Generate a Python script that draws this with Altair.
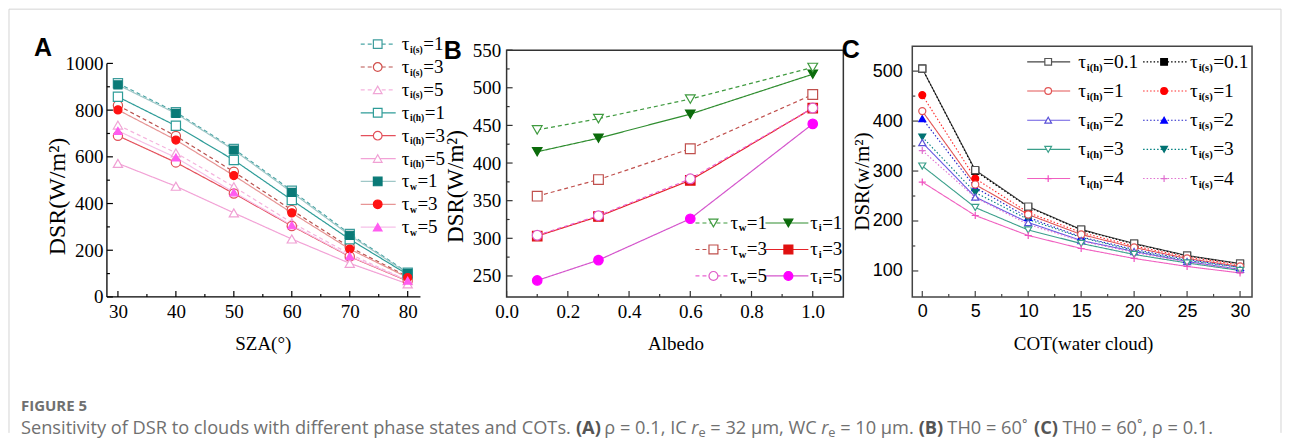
import altair as alt
import pandas as pd

# ---------------- Panel A : DSR vs SZA ----------------
sza = [30, 40, 50, 60, 70, 80]
a_is1 = [915, 791, 634, 455, 270, 104]
a_is3 = [820, 689, 536, 372, 213, 87]
a_is5 = [736, 617, 472, 318, 184, 70]
a_ih1 = [857, 733, 586, 415, 247, 96]
a_ih3 = [690, 576, 443, 304, 173, 68]
a_ih5 = [572, 474, 360, 248, 144, 56]
a_w1 = [908, 786, 629, 448, 264, 101]
a_w3 = [801, 672, 520, 360, 205, 83]
a_w5 = [711, 597, 448, 307, 175, 70]

# ---------------- Panel B : DSR vs Albedo ----------------
albedo = [0.1, 0.3, 0.6, 1.0]
b_w1 = [444, 459, 485, 527]
b_i1 = [415, 433, 465, 518]
b_w3 = [356, 378, 419, 491]
b_i3 = [303, 329, 377, 473]
b_w5 = [304, 330, 379, 473]
b_i5 = [244, 271, 326, 452]

# ---------------- Panel C : DSR vs COT ----------------
cot = [0, 5, 10, 15, 20, 25, 30]
c_h01 = [505, 302, 229, 183, 155, 131, 115]
c_s01 = [505, 300, 228, 182, 154, 130, 114]
c_h1 = [420, 273, 213, 173, 147, 125, 109]
c_s1 = [452, 285, 217, 177, 150, 128, 112]
c_h2 = [357, 248, 197, 161, 139, 119, 103]
c_s2 = [405, 267, 207, 168, 143, 123, 107]
c_h3 = [310, 227, 182, 155, 133, 116, 101]
c_s3 = [368, 257, 203, 167, 141, 121, 107]
c_h4 = [278, 211, 171, 145, 125, 109, 96]
c_s4 = [341, 247, 193, 160, 137, 118, 103]

# ---------------- tick values ----------------
a_xticks = [30, 40, 50, 60, 70, 80]
a_xminor = [35, 45, 55, 65, 75]
a_yticks = [0, 200, 400, 600, 800, 1000]
a_yminor = [100, 300, 500, 700, 900]
b_xticks = [0.0, 0.2, 0.4, 0.6, 0.8, 1.0]
b_xminor = [0.1, 0.3, 0.5, 0.7, 0.9]
b_yticks = [250, 300, 350, 400, 450, 500, 550]
b_yminor = [275, 325, 375, 425, 475, 525]
c_xticks = [0, 5, 10, 15, 20, 25, 30]
c_xminor = [2.5, 7.5, 12.5, 17.5, 22.5, 27.5]
c_yticks = [100, 200, 300, 400, 500]
c_yminor = [150, 250, 350, 450]

# ---------------- legend labels ----------------
a_keys = ["is1", "is3", "is5", "ih1", "ih3", "ih5", "w1", "w3", "w5"]
a_subs = ["i(s)", "i(s)", "i(s)", "i(h)", "i(h)", "i(h)", "w", "w", "w"]
a_sufs = ["=1", "=3", "=5", "=1", "=3", "=5", "=1", "=3", "=5"]
b_keys = ["w1", "i1", "w3", "i3", "w5", "i5"]
b_subs = ["w", "i", "w", "i", "w", "i"]
b_sufs = ["=1", "=1", "=3", "=3", "=5", "=5"]
c_keys = ["h01", "s01", "h1", "s1", "h2", "s2", "h3", "s3", "h4", "s4"]
c_subs = ["i(h)", "i(s)"] * 5
c_sufs = ["=0.1", "=0.1", "=1", "=1", "=2", "=2", "=3", "=3", "=4", "=4"]

PLUS = "M-1,0L1,0M0,-1L0,1"
SOLID = [1, 0]
DASH = [4, 3]
DOT = [1.5, 2]

A_STYLE = {
    "is1": dict(line="#4aa5a5", dash=DASH, shape="square", fill="white", stroke="#3d9c9c"),
    "is3": dict(line="#b9524e", dash=DASH, shape="circle", fill="white", stroke="#d2504c"),
    "is5": dict(line="#f5b4de", dash=DASH, shape="triangle-up", fill="white", stroke="#f0a6d6"),
    "ih1": dict(line="#2e9c98", dash=SOLID, shape="square", fill="white", stroke="#2e9c98"),
    "ih3": dict(line="#e4505c", dash=SOLID, shape="circle", fill="white", stroke="#e2505a"),
    "ih5": dict(line="#f2a2d6", dash=SOLID, shape="triangle-up", fill="white", stroke="#f0a0d4"),
    "w1": dict(line="#9fc7c7", dash=SOLID, shape="square", fill="#0a7a77", stroke="#0a7a77"),
    "w3": dict(line="#e79595", dash=SOLID, shape="circle", fill="#ff1212", stroke="#ff1212"),
    "w5": dict(line="#f6c0e8", dash=SOLID, shape="triangle-up", fill="#ff5cf0", stroke="#ff5cf0"),
}
B_STYLE = {
    "w1": dict(line="#3f9a3f", dash=DASH, shape="triangle-down", fill="white", stroke="#3f9a3f"),
    "i1": dict(line="#2f8d2f", dash=SOLID, shape="triangle-down", fill="#0b6b0b", stroke="#0b6b0b"),
    "w3": dict(line="#c0504d", dash=DASH, shape="square", fill="white", stroke="#c0504d"),
    "i3": dict(line="#e52228", dash=SOLID, shape="square", fill="#e01010", stroke="#e01010"),
    "w5": dict(line="#ea62d2", dash=DASH, shape="circle", fill="white", stroke="#df5cc8"),
    "i5": dict(line="#d456cc", dash=SOLID, shape="circle", fill="#ff00ff", stroke="#ff00ff"),
}
C_STYLE = {
    "h01": dict(line="#444444", dash=SOLID, shape="square", fill="white", stroke="#555555"),
    "s01": dict(line="#000000", dash=DOT, shape="square", fill="#000000", stroke="#000000"),
    "h1": dict(line="#e25555", dash=SOLID, shape="circle", fill="white", stroke="#e25555"),
    "s1": dict(line="#ff2a2a", dash=DOT, shape="circle", fill="#ff0000", stroke="#ff0000"),
    "h2": dict(line="#6a5ae2", dash=SOLID, shape="triangle-up", fill="white", stroke="#5a52d8"),
    "s2": dict(line="#2222c8", dash=DOT, shape="triangle-up", fill="#0000ff", stroke="#0000ff"),
    "h3": dict(line="#3a9f8a", dash=SOLID, shape="triangle-down", fill="white", stroke="#3a9f8a"),
    "s3": dict(line="#008080", dash=DOT, shape="triangle-down", fill="#007272", stroke="#007272"),
    "h4": dict(line="#f060c0", dash=SOLID, shape=PLUS, fill="white", stroke="#f050c0"),
    "s4": dict(line="#e070d0", dash=DOT, shape=PLUS, fill="white", stroke="#e070d0"),
}


def long_df(xvals, series, field):
    rows = []
    for k, vals in series.items():
        for xv, yv in zip(xvals, vals):
            rows.append({"x": xv, "y": yv, field: k})
    return pd.DataFrame(rows)


dfA = long_df(sza, {"is1": a_is1, "is3": a_is3, "is5": a_is5, "ih1": a_ih1, "ih3": a_ih3,
                    "ih5": a_ih5, "w1": a_w1, "w3": a_w3, "w5": a_w5}, "sa")
dfB = long_df(albedo, {"w1": b_w1, "i1": b_i1, "w3": b_w3, "i3": b_i3, "w5": b_w5, "i5": b_i5}, "sb")
dfC = long_df(cot, {"h01": c_h01, "s01": c_s01, "h1": c_h1, "s1": c_s1, "h2": c_h2, "s2": c_s2,
                    "h3": c_h3, "s3": c_s3, "h4": c_h4, "s4": c_s4}, "sc")

SERIF = "Liberation Serif"
SANS = "Liberation Sans"
# Times-like bold widths (em) for subscripts
SUB_EM = {"i(s)": 1.333, "i(h)": 1.5, "w": 0.722, "i": 0.278}
TAU_EM = 0.44


def panel(P):
    W, H = P["W"], P["H"]
    keys = P["keys"]
    st = P["style"]
    f = P["field"]
    xs = alt.Scale(domain=P["xdom"], nice=False, zero=False)
    ys = alt.Scale(domain=P["ydom"], nice=False, zero=False)
    ax_x = alt.Axis(values=P["xticks"], format=P["xfmt"], ticks=False, tickSize=0, domain=False,
                    grid=False, labelFont=P["tfont"], labelFontSize=P["tsize"], labelColor="black",
                    labelPadding=15, labelBaseline="middle", labelFlush=False, labelOverlap=False,
                    title=P["xtitle"], titleFont=SERIF, titleFontSize=P["xtsize"],
                    titleFontWeight="normal", titleColor="black", titleX=P["xtx"], titleY=47,
                    titleBaseline="middle", titleAlign="center")
    ax_y = alt.Axis(values=P["yticks"], format="d", ticks=False, tickSize=0, domain=False,
                    grid=False, labelFont=P["tfont"], labelFontSize=P["tsize"], labelColor="black",
                    labelPadding=P["ylp"], labelAlign="right", labelBaseline="middle",
                    labelFlush=False, labelOverlap=False,
                    title=P["ytitle"], titleFont=SERIF, titleFontSize=P["ytsize"],
                    titleFontWeight="normal", titleColor="black", titleX=P["ytx"], titleY=P["yty"],
                    titleAngle=270, titleBaseline="middle", titleAlign="center")

    def X(fl):
        return alt.X(fl, type="quantitative", scale=xs, axis=ax_x)

    def Y(fl):
        return alt.Y(fl, type="quantitative", scale=ys, axis=ax_y)

    def sc(prop):
        return alt.Scale(domain=keys, range=[st[k][prop] for k in keys])

    layers = []
    # frame / axis lines
    if P["frame"] == "box":
        fr = pd.DataFrame({"fx": [P["xdom"][0]], "fx2": [P["xdom"][1]],
                           "fy": [P["ydom"][0]], "fy2": [P["frame_top"]]})
        layers.append(alt.Chart(fr).mark_rect(fill="transparent", stroke=P["fcolor"],
                                                strokeWidth=1.5).encode(
            x=X("fx"), x2=alt.X2("fx2"), y=Y("fy"), y2=alt.Y2("fy2")))
    else:
        fr = pd.DataFrame({"fx": [P["xdom"][0], P["xdom"][0]], "fx2": [P["axis_xmax"], P["xdom"][0]],
                           "fy": [P["ydom"][0], P["ydom"][0]], "fy2": [P["ydom"][0], P["axis_ymax"]]})
        layers.append(alt.Chart(fr).mark_rule(color="black", strokeWidth=1.3).encode(
            x=X("fx"), x2=alt.X2("fx2"), y=Y("fy"), y2=alt.Y2("fy2")))
    # inward ticks
    for vals, L in [(P["xticks"], 6), (P["xminor"], 3)]:
        layers.append(alt.Chart(pd.DataFrame({"tv": vals})).mark_rule(
            color=P["fcolor"], strokeWidth=1.2).encode(x=X("tv"), y=alt.value(H), y2=alt.value(H - L)))
    for vals, L in [(P["yticks"], 6), (P["yminor"], 3)]:
        layers.append(alt.Chart(pd.DataFrame({"tv": vals})).mark_rule(
            color=P["fcolor"], strokeWidth=1.2).encode(y=Y("tv"), x=alt.value(0), x2=alt.value(L)))

    df = P["df"]
    layers.append(alt.Chart(df).mark_line(strokeWidth=P["lw"]).encode(
        x=X("x"), y=Y("y"), detail=f"{f}:N",
        color=alt.Color(f"{f}:N", scale=sc("line"), legend=None),
        strokeDash=alt.StrokeDash(f"{f}:N", scale=sc("dash"), legend=None)))
    for sub_keys, size in P["marker_layers"]:
        d = df[df[f].isin(sub_keys)]
        layers.append(alt.Chart(d).mark_point(opacity=1, size=size, strokeWidth=1.2).encode(
            x=X("x"), y=Y("y"),
            shape=alt.Shape(f"{f}:N", scale=sc("shape"), legend=None),
            fill=alt.Fill(f"{f}:N", scale=sc("fill"), legend=None),
            stroke=alt.Stroke(f"{f}:N", scale=sc("stroke"), legend=None)))

    # hand-built legend (line sample + marker + τ with subscript)
    rows = []
    for k, sb, sf, r in zip(keys, P["subs"], P["sufs"], P["lrows"]):
        y, l0, l1, lm, tx = r
        sx = tx + TAU_EM * P["lfs"]
        rows.append({f: k, "sub": sb, "suf": sf, "ly": y, "l0": l0, "l1": l1, "lm": lm,
                     "tx": tx, "sx": sx, "sy": y + P["sdy"],
                     "fx": sx + SUB_EM[sb] * P["sfs"] + 0.5})
    lg = pd.DataFrame(rows)
    layers.append(alt.Chart(lg).mark_rule(strokeWidth=P["lw"]).encode(
        x=alt.X("l0:Q", scale=None), x2="l1:Q", y=alt.Y("ly:Q", scale=None),
        color=alt.Color(f"{f}:N", scale=sc("line"), legend=None),
        strokeDash=alt.StrokeDash(f"{f}:N", scale=sc("dash"), legend=None)))
    layers.append(alt.Chart(lg).mark_point(opacity=1, size=P["lsize"], strokeWidth=1.2).encode(
        x=alt.X("lm:Q", scale=None), y=alt.Y("ly:Q", scale=None),
        shape=alt.Shape(f"{f}:N", scale=sc("shape"), legend=None),
        fill=alt.Fill(f"{f}:N", scale=sc("fill"), legend=None),
        stroke=alt.Stroke(f"{f}:N", scale=sc("stroke"), legend=None)))
    layers.append(alt.Chart(lg).mark_text(align="left", baseline="middle", font=SERIF,
                                          fontSize=P["lfs"], color="black").encode(
        x=alt.X("tx:Q", scale=None), y=alt.Y("ly:Q", scale=None), text=alt.value("τ")))
    layers.append(alt.Chart(lg).mark_text(align="left", baseline="middle", font=SERIF,
                                          fontSize=P["sfs"], fontWeight="bold", color="black").encode(
        x=alt.X("sx:Q", scale=None), y=alt.Y("sy:Q", scale=None), text="sub:N"))
    layers.append(alt.Chart(lg).mark_text(align="left", baseline="middle", font=SERIF,
                                          fontSize=P["lfs"], color="black").encode(
        x=alt.X("fx:Q", scale=None), y=alt.Y("ly:Q", scale=None), text="suf:N"))
    # panel letter
    layers.append(alt.Chart(pd.DataFrame({"t": [P["letter"]]})).mark_text(
        font=SANS, fontSize=25, fontWeight="bold", color="black", align="center",
        baseline="middle").encode(text="t:N", x=alt.value(P["letter_xy"][0]),
                                  y=alt.value(P["letter_xy"][1])))
    layers += P.get("extra", [])
    return alt.layer(*layers).properties(width=W, height=H)


# --- legend geometry (pixels inside each panel) ---
a_rows = [(-2 + 22.9 * i, 254, 289, 271, 295) for i in range(9)]
b_rows = []
for i in range(6):
    r, c = divmod(i, 2)
    y = 177 + 26.5 * r
    b_rows.append((y, 189, 221, 207, 224) if c == 0 else (y, 259, 302, 282, 304))
c_rows = []
for i in range(10):
    r, c = divmod(i, 2)
    y = 15.7 + 29.2 * r
    c_rows.append((y, 115, 158, 136, 166) if c == 0 else (y, 231, 275, 252, 278))

# ---------------- caption & outer card (drawn from panel A's origin) ----------------
OX, OY = 106, 45  # panel A plot origin on the page
cap_segments = [
    ("Sensitivity of DSR to clouds with different phase states and COTs. ", "n"),
    ("(A)", "b"), (" ρ = 0.1, IC ", "n"), ("r", "i"), ("e", "s"), (" = 32 μm, WC ", "n"),
    ("r", "i"), ("e", "s"), (" = 10 μm. ", "n"), ("(B)", "b"), (" TH0 = 60˚ ", "n"),
    ("(C)", "b"), (" TH0 = 60˚, ρ = 0.1.", "n"),
]
CW = {' ': 0.26, 'a': 0.556, 'b': 0.613, 'c': 0.48, 'd': 0.613, 'e': 0.561, 'f': 0.336,
      'g': 0.546, 'h': 0.614, 'i': 0.252, 'l': 0.252, 'm': 0.93, 'n': 0.614, 'o': 0.601,
      'p': 0.613, 'r': 0.408, 's': 0.477, 't': 0.353, 'u': 0.614, 'v': 0.5, 'w': 0.775,
      'y': 0.5, 'I': 0.279, 'T': 0.556, 'S': 0.549, 'C': 0.632, 'D': 0.73, 'O': 0.78,
      'R': 0.614, 'H': 0.738, 'W': 0.904, 'A': 0.633, 'B': 0.647, '(': 0.296, ')': 0.296,
      '.': 0.266, ',': 0.246, '=': 0.572, 'ρ': 0.6, 'μ': 0.62, '˚': 0.4}


def em(s):
    return sum(CW.get(ch, 0.572) for ch in s)


FACT = {"n": 1.0, "b": 1.06, "i": 0.95, "s": 0.7}
tot = sum(em(t) * FACT[k] for t, k in cap_segments)
cap_x0, cap_x1, cap_y = 20, 1215, 428
cfs = (cap_x1 - cap_x0) / tot
cap_rows = []
cx = cap_x0
for t, k in cap_segments:
    lead = len(t) - len(t.lstrip(" "))
    cap_rows.append({"t": t.strip(" "), "k": k, "x": cx + em(" ") * lead * cfs - OX,
                     "y": cap_y - OY + (4 if k == "s" else 0)})
    cx += em(t) * FACT[k] * cfs
cap_df = pd.DataFrame(cap_rows)

extra_A = []
for k, wt, sty, fsz, col in [("n", "normal", "normal", cfs, "#707070"),
                             ("b", "bold", "normal", cfs, "#555555"),
                             ("i", "normal", "italic", cfs, "#707070"),
                             ("s", "normal", "normal", cfs * 0.7, "#707070")]:
    extra_A.append(alt.Chart(cap_df[cap_df.k == k]).mark_text(
        align="left", baseline="middle", font="Open Sans", fontSize=fsz, fontWeight=wt,
        fontStyle=sty, color=col).encode(x=alt.X("x:Q", scale=None), y=alt.Y("y:Q", scale=None),
                                         text="t:N"))
extra_A.append(alt.Chart(pd.DataFrame({"t": ["FIGURE 5"]})).mark_text(
    align="left", baseline="middle", font="Open Sans", fontSize=15, fontWeight="bold",
    color="#707070").encode(text="t:N", x=alt.value(20 - OX), y=alt.value(405 - OY)))
# outer card border
for (x1, y1, x2, y2) in [(8, 8, 1281, 8), (8, 8, 8, 432), (1281, 8, 1281, 432)]:
    extra_A.append(alt.Chart(pd.DataFrame({"t": [0]})).mark_rule(
        color="#d4d4d4", strokeWidth=1).encode(
        x=alt.value(x1 - OX), x2=alt.value(x2 - OX), y=alt.value(y1 - OY), y2=alt.value(y2 - OY)))

H = 251
PA = dict(W=331, H=H, keys=a_keys, field="sa", style=A_STYLE, df=dfA, xdom=[28.1, 85.17],
          ydom=[0, 1074], xticks=a_xticks, xminor=a_xminor, yticks=a_yticks, yminor=a_yminor,
          xfmt="d", tfont=SERIF, tsize=19, xtitle="SZA(°)", xtsize=19, xtx=156,
          ytitle="DSR(W/m²)", ytsize=24, ytx=-49, yty=150, ylp=4,
          frame="axes", axis_xmax=82.2, axis_ymax=1000, fcolor="black", lw=1.2,
          marker_layers=[(["is1", "is3", "is5", "ih1", "ih3", "ih5"], 85), (["w1", "w3", "w5"], 65)],
          subs=a_subs, sufs=a_sufs, lrows=a_rows, lsize=75, lfs=19, sfs=9.5, sdy=5.5,
          letter="A", letter_xy=(-64, 2), extra=extra_A)
PB = dict(W=337, H=H, keys=b_keys, field="sb", style=B_STYLE, df=dfB, xdom=[0, 1.1],
          ydom=[222.1, 555.3], xticks=b_xticks, xminor=b_xminor, yticks=b_yticks,
          yminor=b_yminor, xfmt=".1f", tfont=SERIF, tsize=19, xtitle="Albedo", xtsize=19, xtx=169,
          ytitle="DSR(W/m²)", ytsize=23, ytx=-51, yty=140, ylp=6,
          frame="box", frame_top=550, fcolor="#333333", lw=1.2,
          marker_layers=[(["i1", "i3", "i5"], 90), (["w1", "w3", "w5"], 95)],
          subs=b_subs, sufs=b_sufs, lrows=b_rows, lsize=80, lfs=19, sfs=10.5, sdy=5.5,
          letter="B", letter_xy=(-54, 5))
PC = dict(W=340, H=H, keys=c_keys, field="sc", style=C_STYLE, df=dfC, xdom=[-0.943, 31.13],
          ydom=[48, 550], xticks=c_xticks, xminor=c_xminor, yticks=c_yticks, yminor=c_yminor,
          xfmt="d", tfont=SANS, tsize=18, xtitle="COT(water cloud)", xtsize=19, xtx=171,
          ytitle="DSR(w/m²)", ytsize=21, ytx=-50, yty=135, ylp=10,
          frame="box", frame_top=550, fcolor="#444444", lw=1.1,
          marker_layers=[(["s01", "s1", "s2", "s3", "s4"], 48), (["h01", "h1", "h2", "h3", "h4"], 50)],
          subs=c_subs, sufs=c_sufs, lrows=c_rows, lsize=45, lfs=19.5, sfs=10.5, sdy=6,
          letter="C", letter_xy=(-61.5, 3.5))

chart = alt.hconcat(panel(PA), panel(PB), panel(PC), spacing=69, bounds="flush").resolve_scale(
    color="independent", strokeDash="independent", shape="independent", fill="independent",
    stroke="independent", x="independent", y="independent").configure_view(
    stroke=None).properties(padding=0, background="white")

chart.save("out.html", embed_options={"renderer": "svg", "actions": False})
